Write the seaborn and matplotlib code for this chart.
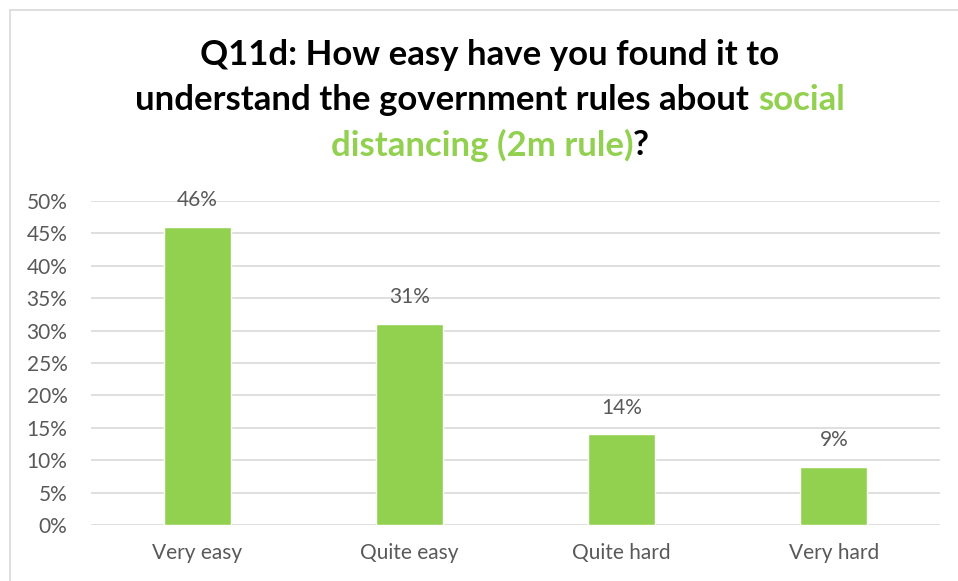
import matplotlib
matplotlib.use("Agg")
import matplotlib.pyplot as plt
import matplotlib.ticker as tick
from matplotlib.patches import Rectangle
import seaborn as sns
import pandas as pd

categories = ["Very easy", "Quite easy", "Quite hard", "Very hard"]
shares = [46, 31, 14, 9]

GREEN = "#92D050"
GREY = "#595959"

sns.set_style("white")
plt.rcParams["font.family"] = ["Lato", "DejaVu Sans"]

df = pd.DataFrame({"Answer": categories, "Share": shares})

W, H = 958, 581
fig = plt.figure(figsize=(W / 100, H / 100), dpi=100)
ax = fig.add_axes([91 / W, 1 - 525 / H, (940 - 91) / W, (525 - 201) / H])

sns.barplot(data=df, x="Answer", y="Share", color=GREEN, width=0.316,
            saturation=1, ax=ax, zorder=3)

ax.set_ylim(0, 50)
ax.set_xlim(-0.5, len(categories) - 0.5)
ax.yaxis.set_major_locator(tick.MultipleLocator(5))
ax.yaxis.set_major_formatter(tick.StrMethodFormatter("{x:.0f}%"))
ax.grid(axis="y", color="#D9D9D9", linewidth=1.2, zorder=0)
ax.set_axisbelow(True)
for s in ax.spines.values():
    s.set_visible(False)
ax.set_xlabel("")
ax.set_ylabel("")
ax.tick_params(axis="both", length=0, labelsize=15, labelcolor=GREY)
ax.tick_params(axis="y", pad=17)
ax.tick_params(axis="x", pad=13)

for p, v in zip(ax.patches, shares):
    ax.annotate("{}%".format(v), xy=(p.get_x() + p.get_width() / 2, p.get_height()),
                xytext=(0, 12), textcoords="offset points",
                ha="center", va="bottom", fontsize=15, color=GREY)

# border around chart area
fig.patches.append(Rectangle((10 / W, -0.1), 1.2, 1 - 10 / H + 0.1, transform=fig.transFigure,
                             fill=False, edgecolor="#D9D9D9", linewidth=1.2))

# multi-coloured title
lines = [
    [("Q11d: How easy have you found it to", "black")],
    [("understand the government rules about ", "black"), ("social", GREEN)],
    [("distancing (2m rule)", GREEN), ("?", "black")],
]
ys = [55, 100, 145]
renderer = fig.canvas.get_renderer()
for parts, y in zip(lines, ys):
    texts = []
    for s, c in parts:
        t = fig.text(0, 1 - y / H, s, color=c, fontsize=25, fontweight="bold",
                     ha="left", va="center")
        texts.append(t)
    widths = [t.get_window_extent(renderer).width for t in texts]
    x = (490 - sum(widths) / 2)
    for t, w in zip(texts, widths):
        t.set_x(x / W)
        x += w

fig.savefig("out.png", dpi=100)
